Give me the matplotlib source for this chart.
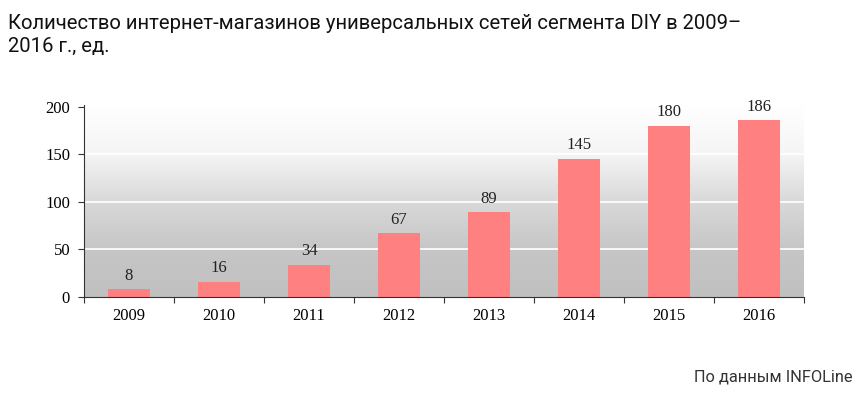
import numpy as np
import matplotlib
matplotlib.use("Agg")
import matplotlib.pyplot as plt
from matplotlib.colors import LinearSegmentedColormap

years = ["2009", "2010", "2011", "2012", "2013", "2014", "2015", "2016"]
shops = [8, 16, 34, 67, 89, 145, 180, 186]
yticks = [0, 50, 100, 150, 200]

title = "Количество интернет-магазинов универсальных сетей сегмента DIY в 2009–\n2016 г., ед."
source = "По данным INFOLine"

fig = plt.figure(figsize=(8.65, 3.93), dpi=100)
ax = fig.add_axes([84 / 865, 1 - 297 / 393, 720 / 865, 192 / 393])

# grey-to-white gradient behind the bars
grad = LinearSegmentedColormap.from_list(
    "bg", [(0, "#c0c0c0"), (0.25, "#c6c6c6"), (0.5, "#d9d9d9"), (0.75, "#f5f5f5"), (1, "#ffffff")])
ax.imshow(np.linspace(0, 1, 256).reshape(-1, 1), cmap=grad, origin="lower",
          extent=[-0.5, len(years) - 0.5, 0, 202], aspect="auto", zorder=0)

for y in [50, 100, 150]:
    ax.axhline(y, color="white", lw=1.2, zorder=1)

x = np.arange(len(years))
ax.bar(x, shops, width=0.46, color="#ff8080", zorder=2)
for xi, v in zip(x, shops):
    ax.text(xi, v + 6, str(v), ha="center", va="bottom",
            family="Liberation Serif", fontsize=12, color="#222222")

ax.set_xlim(-0.5, len(years) - 0.5)
ax.set_ylim(0, 202)
ax.set_yticks(yticks)
ax.set_yticklabels([str(t) for t in yticks], family="Liberation Serif", fontsize=12)
ax.set_xticks(np.arange(len(years) + 1) - 0.5, minor=False)
ax.set_xticklabels([])
ax.set_xticks(x, minor=True)
ax.set_xticklabels(years, minor=True, family="Liberation Serif", fontsize=12)
ax.tick_params(axis="x", which="minor", length=0, pad=8)
ax.tick_params(axis="x", which="major", length=4, direction="out", color="#333333")
ax.tick_params(axis="y", length=4, direction="out", color="#333333", pad=6)
for s in ["top", "right"]:
    ax.spines[s].set_visible(False)
ax.spines["left"].set_color("#333333")
ax.spines["bottom"].set_color("#333333")

fig.text(8 / 865, 1 - 14 / 393, title, ha="left", va="top", family="Roboto",
         fontsize=14.6, color="#111111", linespacing=1.25)
fig.text(853 / 865, 1 - 377 / 393, source, ha="right", va="center", family="Roboto",
         fontsize=11.8, color="#333333")

fig.savefig("out.png", dpi=100)
